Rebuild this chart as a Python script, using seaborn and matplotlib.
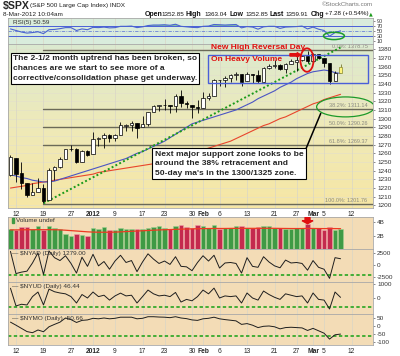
import numpy as np
import matplotlib
matplotlib.use("Agg")
import matplotlib.pyplot as plt
import seaborn as sns
from matplotlib.patches import Ellipse, Rectangle, FancyArrow
from matplotlib.ticker import FixedLocator, FuncFormatter

sns.set_style("white")
plt.rcParams['font.family'] = ['Liberation Sans', 'DejaVu Sans']
plt.rcParams['axes.unicode_minus'] = False

# ---------------- data ----------------
dates = ["2011-12-09",
         "2011-12-12", "2011-12-13", "2011-12-14", "2011-12-15", "2011-12-16",
         "2011-12-19", "2011-12-20", "2011-12-21", "2011-12-22", "2011-12-23",
         "2011-12-27", "2011-12-28", "2011-12-29", "2011-12-30",
         "2012-01-03", "2012-01-04", "2012-01-05", "2012-01-06",
         "2012-01-09", "2012-01-10", "2012-01-11", "2012-01-12", "2012-01-13",
         "2012-01-17", "2012-01-18", "2012-01-19", "2012-01-20",
         "2012-01-23", "2012-01-24", "2012-01-25", "2012-01-26", "2012-01-27",
         "2012-01-30", "2012-01-31", "2012-02-01", "2012-02-02", "2012-02-03",
         "2012-02-06", "2012-02-07", "2012-02-08", "2012-02-09", "2012-02-10",
         "2012-02-13", "2012-02-14", "2012-02-15", "2012-02-16", "2012-02-17",
         "2012-02-21", "2012-02-22", "2012-02-23", "2012-02-24",
         "2012-02-27", "2012-02-28", "2012-02-29", "2012-03-01", "2012-03-02",
         "2012-03-05", "2012-03-06", "2012-03-07", "2012-03-08"]
holidays = ["2011-12-26", "2012-01-02", "2012-01-16", "2012-02-20"]

opens = [1234.5, 1255.0, 1236.8, 1225.7, 1212.0, 1216.0, 1219.7, 1205.7, 1241.3, 1243.7,
         1254.0, 1265.0, 1265.4, 1249.8, 1262.8, 1258.9, 1277.0, 1277.3, 1280.9, 1277.8,
         1280.8, 1292.0, 1292.5, 1294.8, 1290.2, 1293.7, 1308.0, 1314.5, 1315.3, 1316.0,
         1314.4, 1326.3, 1318.3, 1316.2, 1313.5, 1312.5, 1324.2, 1326.2, 1344.3, 1344.3,
         1347.0, 1350.0, 1351.2, 1343.1, 1351.3, 1350.5, 1342.6, 1358.1, 1361.2, 1362.1,
         1357.5, 1363.5, 1365.2, 1367.6, 1372.2, 1365.9, 1374.1, 1369.6, 1363.6, 1343.4,
         1352.65]
highs = [1258.3, 1255.0, 1249.9, 1225.7, 1225.6, 1231.0, 1224.6, 1242.8, 1245.0, 1255.2,
         1265.4, 1269.4, 1265.9, 1263.5, 1264.1, 1284.6, 1278.7, 1283.0, 1281.8, 1282.0,
         1296.5, 1293.8, 1296.8, 1294.8, 1303.0, 1308.1, 1315.5, 1315.4, 1322.3, 1316.0,
         1328.3, 1333.5, 1320.1, 1316.2, 1321.4, 1330.5, 1329.2, 1345.3, 1344.4, 1349.2,
         1351.0, 1354.3, 1351.2, 1353.4, 1351.3, 1355.9, 1359.0, 1363.4, 1367.8, 1362.7,
         1364.2, 1368.9, 1371.9, 1373.1, 1378.0, 1376.2, 1374.5, 1369.6, 1363.6, 1354.9,
         1363.04]
lows = [1234.0, 1227.0, 1219.4, 1209.5, 1212.0, 1215.0, 1202.4, 1205.7, 1229.5, 1243.1,
        1254.0, 1262.3, 1248.6, 1249.8, 1257.5, 1258.9, 1268.1, 1265.7, 1273.3, 1274.6,
        1280.8, 1285.4, 1285.8, 1277.6, 1290.2, 1291.0, 1308.0, 1309.2, 1309.9, 1306.1,
        1307.7, 1313.6, 1311.7, 1300.5, 1306.7, 1312.5, 1321.6, 1326.2, 1337.5, 1335.9,
        1342.0, 1344.6, 1337.4, 1343.1, 1340.8, 1340.8, 1341.2, 1357.2, 1358.1, 1355.5,
        1352.3, 1363.5, 1354.9, 1366.0, 1363.8, 1365.9, 1368.9, 1359.1, 1340.0, 1343.4,
        1352.65]
closes = [1255.2, 1236.5, 1225.7, 1211.8, 1215.8, 1219.7, 1205.4, 1241.3, 1243.7, 1254.0,
          1265.3, 1265.4, 1249.6, 1263.0, 1257.6, 1277.0, 1277.3, 1281.1, 1277.8, 1280.7,
          1292.1, 1292.5, 1295.5, 1289.1, 1293.7, 1308.0, 1314.5, 1315.4, 1316.0, 1314.7,
          1326.1, 1318.4, 1316.3, 1313.0, 1312.4, 1324.1, 1325.5, 1344.9, 1344.3, 1347.0,
          1350.0, 1352.0, 1342.6, 1351.8, 1350.5, 1343.2, 1358.0, 1361.2, 1362.2, 1357.7,
          1363.5, 1366.0, 1367.6, 1372.2, 1366.0, 1374.1, 1369.6, 1364.3, 1343.4, 1352.6,
          1359.91]
ma20 = [1235, 1234, 1232, 1231, 1229, 1228, 1227, 1227, 1228, 1230,
        1232, 1234, 1236, 1238, 1240, 1242, 1244, 1246, 1248, 1250,
        1252, 1254, 1257, 1260, 1262, 1265, 1268, 1271, 1274, 1278,
        1282, 1286, 1290, 1294, 1296, 1298, 1300, 1302, 1304, 1306,
        1308, 1310, 1313, 1316, 1319, 1323, 1326, 1329, 1332, 1336,
        1339, 1342, 1346, 1349, 1352, 1354, 1355, 1356, 1355, 1353,
        1352]
ma50 = [1220, 1221, 1222, 1223, 1225, 1226, 1227, 1228, 1229, 1230,
        1231, 1232, 1233, 1234, 1235, 1236, 1238, 1239, 1240, 1241,
        1242, 1243, 1244, 1245, 1246, 1247, 1248, 1250, 1251, 1253,
        1255, 1256, 1258, 1260, 1262, 1264, 1266, 1268, 1270, 1272,
        1274, 1277, 1280, 1283, 1286, 1289, 1292, 1294, 1297, 1300,
        1302, 1305, 1308, 1311, 1314, 1317, 1319, 1322, 1324, 1326,
        1328]
rsi = [58, 52, 46, 42, 44, 47, 40, 55, 56, 59,
       63, 63, 52, 58, 55, 64, 63, 65, 62, 63,
       68, 68, 69, 63, 66, 71, 73, 73, 74, 72,
       76, 68, 66, 64, 63, 68, 69, 75, 74, 73,
       74, 75, 62, 67, 65, 57, 66, 68, 68, 60,
       65, 66, 67, 69, 58, 65, 57, 52, 30, 44,
       50.59]
volume_b = [3.0, 2.9, 3.3, 3.3, 3.0, 3.5, 2.9, 3.4, 3.2, 3.0,
            2.2, 2.0, 2.3, 2.1, 2.0, 3.2, 3.0, 3.3, 2.9, 2.9,
            3.2, 3.0, 3.0, 3.0, 3.0, 3.1, 3.3, 3.4, 3.2, 3.0,
            3.5, 3.6, 3.3, 3.2, 3.6, 3.4, 3.2, 3.6, 3.0, 3.2,
            3.1, 3.5, 3.4, 3.1, 3.2, 3.3, 3.4, 3.4, 3.2, 3.2,
            3.0, 3.0, 3.1, 3.2, 3.7, 3.2, 3.1, 2.9, 3.3, 2.9,
            3.0]
vol_ma_b = [2.85, 2.85, 2.86, 2.87, 2.87, 2.88, 2.88, 2.88, 2.87, 2.85,
            2.80, 2.74, 2.68, 2.62, 2.56, 2.52, 2.50, 2.50, 2.50, 2.52,
            2.55, 2.60, 2.64, 2.68, 2.72, 2.76, 2.80, 2.84, 2.87, 2.90,
            2.93, 2.96, 2.98, 3.00, 3.02, 3.04, 3.05, 3.06, 3.06, 3.06,
            3.07, 3.08, 3.08, 3.08, 3.08, 3.08, 3.09, 3.09, 3.08, 3.07,
            3.06, 3.05, 3.05, 3.05, 3.07, 3.06, 3.05, 3.04, 3.05, 3.04,
            3.03]
nyad = [2800, -1800, -1500, -1300, 400, 2500, -2000, 2900, 1500, 900,
        1900, 300, -1700, 1600, -300, 2200, -200, 700, -900, 800,
        2000, 500, 900, -1400, 600, 2300, 1200, 300, 800, 100,
        1700, -300, -400, -1200, 500, 1900, 800, 2000, -650, 400,
        500, 300, -1700, 1500, -300, -500, 1700, 600, -200, -600,
        1000, 400, 500, 300, -1100, 900, -500, -900, -2800, 1500,
        1279]
nyud = [700, -570, -450, -500, 100, 430, -500, 640, 450, 360,
        300, 100, -360, 250, 0, 430, 100, 200, -150, 150,
        350, 150, 200, -360, 100, 570, 300, 150, 200, 100,
        400, -290, -100, -200, 100, 570, 300, 710, 0, 150,
        100, 150, -360, 360, 0, -150, 500, 250, 50, -100,
        300, 200, 100, 150, -360, 360, -100, -150, -790, 430,
        46.44]
nymo = [24, 5, -15, -35, -42, -25, -36, -5, 10, 24,
        50, 40, 22, 35, 38, 48, 45, 50, 45, 48,
        55, 55, 55, 45, 48, 58, 58, 56, 55, 52,
        58, 50, 46, 38, 35, 45, 48, 55, 45, 40,
        36, 32, 10, 15, 5, -10, -2, 0, -5, -18,
        -10, -8, -10, -12, -28, -15, -30, -45, -82, -55,
        -50.66]

fib_levels = [1378.75, 1311.14, 1290.26, 1269.37, 1201.76]
fib_labels = ["0.0%: 1378.75", "38.2%: 1311.14", "50.0%: 1290.26",
              "61.8%: 1269.37", "100.0%: 1201.76"]
fib_start = "2011-12-19"
trend_start, trend_end = ("2011-12-19", 1202.4), ("2012-03-08", 1382.0)
price_ticks = list(range(1200, 1381, 10))
rsi_ticks = [10, 30, 50, 70, 90]
tick_dates = ["2011-12-12", "2011-12-19", "2011-12-27", "2012-01-03", "2012-01-09",
              "2012-01-17", "2012-01-23", "2012-01-30", "2012-02-01", "2012-02-06",
              "2012-02-13", "2012-02-21", "2012-02-27", "2012-03-01", "2012-03-05",
              "2012-03-12"]
tick_labels = ["12", "19", "27", "2012", "9", "17", "23", "30", "Feb", "6",
               "13", "21", "27", "Mar", "5", "12"]
bold_ticks = {"2012", "Feb", "Mar"}

def pos(d):
    return int(np.busday_count(dates[0], d, holidays=holidays))

xv = np.array([pos(d) for d in dates], dtype=float)
O, Hh, L, C = (np.asarray(a, dtype=float) for a in (opens, highs, lows, closes))
up = C >= np.concatenate([[O[0]], C[:-1]])
tick_x = [pos(d) for d in tick_dates]

# ---------------- figure ----------------
W, H = 400, 356
fig = plt.figure(figsize=(W / 100, H / 100), dpi=100)
fig.patch.set_facecolor("white")
XL = (-0.45, 65.9)
lower_bg = "#f3dcb6"

def fx(p):
    return p / W

def fy(p):
    return 1 - p / H

def rect(top, bot):
    return [8 / W, 1 - bot / H, 365 / W, (bot - top) / H]

# --- lower panels first: create the axes and draw the indicator lines at once ---
ax_vol = fig.add_axes(rect(217, 249))
ax_vol.set_facecolor(lower_bg)
ax_vol.bar(xv, volume_b, width=0.78, color=["#3f9a45" if u else "#c42a4e" for u in up],
           edgecolor=["#9fd08f" if u else "#f0a0a8" for u in up], lw=0.4, zorder=2)
ax_vol.plot(xv, np.asarray(vol_ma_b, dtype=float), color="#ee3a22", lw=0.9, zorder=3)

specs = [(249, 282, nyad, (-3550, 3300), [2500, 0, -2500], -2000,
          "$NYAD (Daily) 1279.00"),
         (282, 314, nyud, (-1150, 1150), [1000, 0], -650,
          "$NYUD (Daily) 46.44"),
         (314, 345, nymo, (-119, 75), [50, 0, -50, -100], -60,
          "$NYMO (Daily) -50.66")]
breadth_axes = []
for top, bot, y, ylim, ticks, dash, label in specs:
    ax = fig.add_axes(rect(top, bot))
    ax.set_facecolor(lower_bg)
    sns.lineplot(x=xv, y=np.asarray(y, dtype=float), ax=ax, color="#1e1e1e", lw=0.7,
                 zorder=4)
    breadth_axes.append(ax)
ax_ad, ax_ud, ax_mo = breadth_axes

ax_rsi = fig.add_axes(rect(18, 44))
ax_rsi.set_facecolor("#d9ecdc")
ax_main = fig.add_axes(rect(44, 208))

def style(ax, ylim):
    ax.set_xlim(*XL)
    ax.set_ylim(*ylim)
    ax.set_xlabel("")
    ax.set_ylabel("")
    for s in ax.spines.values():
        s.set_color("#a8a8a8")
        s.set_linewidth(0.6)
    ax.yaxis.tick_right()
    ax.tick_params(axis="y", length=1.5, width=0.4, pad=1.5, labelsize=4.6,
                   colors="#333333")
    ax.tick_params(axis="x", length=0, labelsize=4.8, pad=2)
    ax.set_xticks(tick_x)
    ax.set_xticklabels([""] * len(tick_x))
    for t in tick_x:
        ax.axvline(t, color="#d9d6c6", lw=0.5, zorder=0.5)

# ---------------- volume decorations ----------------
style(ax_vol, (0, 4.77))
ax_vol.set_yticks([2, 4])
ax_vol.set_yticklabels(["2B", "4B"])
ax_vol.add_patch(FancyArrow(pos("2012-02-29"), 4.72, 0, -0.5, width=0.9,
                            head_width=2.0, head_length=0.45, color="#e01010", zorder=6))
ax_vol.add_patch(Rectangle((0.25, 3.85), 0.45, 0.75, color="#3f9a45", zorder=6))
ax_vol.text(1.0, 4.2, "Volume undef", fontsize=4.6, color="#333333",
            va="center", zorder=6)

# ---------------- breadth decorations ----------------
for ax, (top, bot, y, ylim, ticks, dash, label) in zip(breadth_axes, specs):
    style(ax, ylim)
    ax.axhline(dash, color="#14a014", lw=1.1, ls=(0, (2.2, 1.6)), zorder=2)
    ax.set_yticks(ticks)
    ax.set_yticklabels([str(t) for t in ticks])
    ax.text(0.2, ylim[1] - (ylim[1] - ylim[0]) * 0.13, "\u2014 " + label,
            fontsize=4.6, color="#333333", va="center", zorder=6)

# ---------------- RSI ----------------
rv = np.asarray(rsi, dtype=float)
ax_rsi.fill_between(xv, 70, rv, where=rv >= 70, interpolate=True,
                    color="#62b48c", alpha=0.9, lw=0, zorder=2)
ax_rsi.plot(xv, rv, color="#4a63d0", lw=0.8, zorder=3)
for lv in (70, 30):
    ax_rsi.axhline(lv, color="#4a5fd8", lw=0.7, zorder=1)
ax_rsi.axhline(50, color="#6c82d8", lw=0.6, ls=(0, (4, 1.5, 1, 1.5)), zorder=1)
style(ax_rsi, (0, 100))
ax_rsi.set_yticks(rsi_ticks)
ax_rsi.tick_params(axis="y", labelsize=4.0, pad=1)
ax_rsi.add_patch(Ellipse((pos("2012-03-07") - 0.2, 31), 3.8, 28, fill=False,
                         ec="#1c9a2a", lw=1.1, zorder=5))
ax_rsi.text(0.4, 84, "RSI(5) 50.59", fontsize=4.6, color="#333333", va="center")

# ---------------- main price ----------------
top_c = np.array([0xdb, 0xe9, 0xcf]) / 255.0
mid_c = np.array([0xee, 0xe9, 0xb8]) / 255.0
bot_c = np.array([0xf6, 0xe6, 0xa4]) / 255.0
nb = 60
edges = np.linspace(1197, 1386, nb + 1)
for k in range(nb):
    t = (k + 0.5) / nb
    col = bot_c + (mid_c - bot_c) * (t / 0.5) if t < 0.5 else mid_c + (top_c - mid_c) * ((t - 0.5) / 0.5)
    ax_main.axhspan(edges[k], edges[k + 1], color=tuple(col), lw=0, zorder=0.1)
for p in price_ticks:
    ax_main.axhline(p, color="#e2dfcc", lw=0.4, zorder=0.4)
xs = pos(fib_start)
for lv, lab in zip(fib_levels, fib_labels):
    ax_main.plot([xs, XL[1]], [lv, lv], color="#6b6a58", lw=1.0, zorder=1)
    ax_main.text(64.9, lv + 1.2, lab, fontsize=4.0, color="#8a8a80",
                 ha="right", va="bottom", zorder=2)
sns.lineplot(x=xv, y=np.asarray(ma50, dtype=float), ax=ax_main, color="#e8452c",
             lw=0.8, zorder=2)
sns.lineplot(x=xv, y=np.asarray(ma20, dtype=float), ax=ax_main, color="#4b55c4",
             lw=0.8, zorder=2)
tx = [pos(trend_start[0]), pos(trend_end[0])]
ty = [trend_start[1], trend_end[1]]
ax_main.plot(tx, ty, color="#1a9a1a", lw=1.4, ls=(0, (1, 1.2)), zorder=3)

bw = 0.56
n = len(xv)
for i in range(n):
    last = i == n - 1
    ax_main.vlines(xv[i], L[i], Hh[i], color="#7a7a30" if last else "black",
                   lw=0.6, zorder=4)
    lo, hi = min(O[i], C[i]), max(O[i], C[i])
    if last:
        fc, ec = "#fff47a", "#8a8a30"
    else:
        fc = "white" if C[i] >= O[i] else "black"
        ec = "black"
    ax_main.add_patch(Rectangle((xv[i] - bw / 2, lo), bw, max(hi - lo, 0.5),
                                fc=fc, ec=ec, lw=0.5, zorder=5))

ax_main.add_patch(Rectangle((35.9, 1341), 29.1, 32, fill=False, ec="#4a5fd8",
                            lw=1.0, zorder=6))
xr = pos("2012-02-29")
ax_main.add_patch(Ellipse((xr - 0.1, 1367.5), 2.4, 27, fill=False, ec="#e01010",
                          lw=1.3, zorder=7))
ax_main.add_patch(FancyArrow(xr - 3.2, 1373.5, 1.3, 0, width=2.8, head_width=5.0,
                             head_length=0.7, color="#e01010", zorder=7))
ax_main.add_patch(Ellipse((60.9, 1313.5), 10.5, 23, fill=False, ec="#1c9a2a", lw=0.9,
                          zorder=7))
ax_main.plot([53.6, 56.4], [1263.5, 1306], color="black", lw=1.1, zorder=7)
ax_main.text(36.4, 1381.5, "New High Reversal Day", color="#e01010", fontsize=6.0,
             fontweight="bold", va="center", zorder=8)
ax_main.text(36.4, 1368.5, "On Heavy Volume", color="#e01010", fontsize=6.0,
             fontweight="bold", va="center", zorder=8)
ax_main.text(0.45, 1373.2,
             "The 2-1/2 month uptrend has been broken, so\n"
             "chances are we start to see more of a\n"
             "corrective/consolidation phase get underway.",
             fontsize=6.0, fontweight="bold", va="top", ha="left", linespacing=1.55,
             zorder=9,
             bbox=dict(boxstyle="square,pad=0.25", fc="white", ec="black", lw=0.8))
ax_main.text(26.2, 1263.0,
             "Next major support zone looks to be\n"
             "around the 38% retracement and\n"
             "50-day ma's in the 1300/1325 zone.",
             fontsize=6.1, fontweight="bold", va="top", ha="left", linespacing=1.5,
             zorder=9,
             bbox=dict(boxstyle="square,pad=0.3", fc="white", ec="black", lw=0.8))
style(ax_main, (1197, 1386))
ax_main.set_yticks(price_ticks)

for a in (ax_main, ax_mo):
    a.set_xticklabels(tick_labels)
    for lab in a.get_xticklabels():
        if lab.get_text() in bold_ticks:
            lab.set_fontweight("bold")

# ---------------- header ----------------
fig.text(fx(3), fy(6), "$SPX", fontsize=7.6, fontweight="bold", va="center")
fig.text(fx(30), fy(6), "(S&P 500 Large Cap Index) INDX", fontsize=4.6, va="center",
         color="#222222")
fig.text(fx(3), fy(14), "8-Mar-2012 10:04am", fontsize=4.6, va="center", color="#222222")
fig.text(fx(322), fy(5), "\u00a9StockCharts.com", fontsize=4.4, va="center",
         color="#777777")
segs = [("Open", 145, True), ("1352.85", 161, False), ("High", 185, True),
        ("1363.04", 204, False), ("Low", 229, True), ("1352.85", 245, False),
        ("Last", 269, True), ("1359.91", 285, False), ("Chg", 311, True),
        ("+7.28 (+0.54%)", 325, False)]
for t, xp, b in segs:
    fig.text(fx(xp), fy(14), t, fontsize=5.0 if b else 4.5,
             fontweight="bold" if b else "normal", va="center", color="#111111")
fig.text(fx(369), fy(14), "\u25b2", fontsize=3.5, va="center", color="#1a9a1a",
         family="DejaVu Sans")

fig.savefig("out.png", dpi=100, facecolor="white")
